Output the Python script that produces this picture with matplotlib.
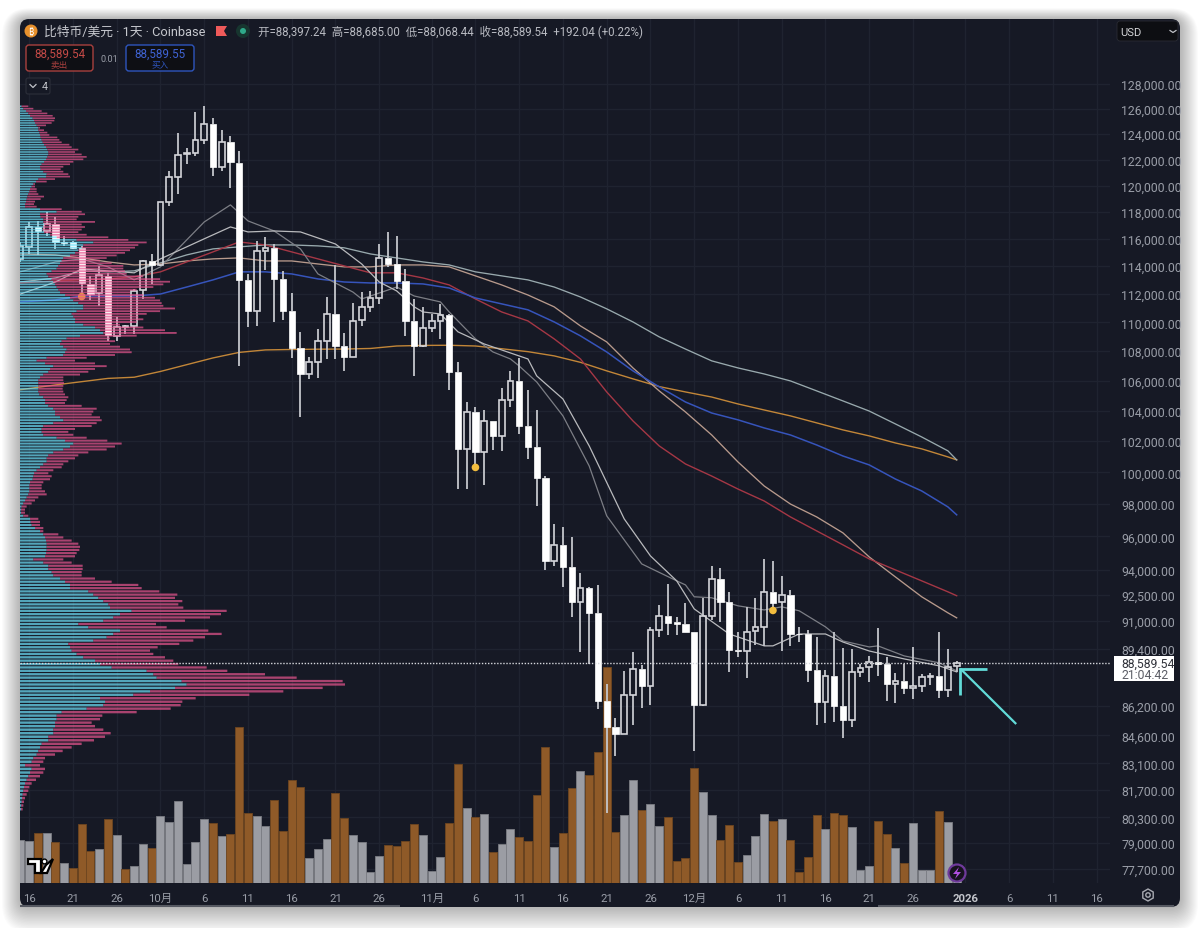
import matplotlib
matplotlib.use("Agg")
import matplotlib.pyplot as plt
from matplotlib.patches import FancyBboxPatch, Rectangle, Circle, Polygon, RegularPolygon
import numpy as np

plt.rcParams['font.family'] = ['Roboto', 'Noto Sans CJK SC', 'DejaVu Sans']

# day 0 is 16 Sep 2025, last candle is 31 Dec
days = np.arange(-1, 107)
opens = [114530, 115420, 116860, 116560, 117100, 115790, 115750, 115320, 112720, 112050, 113300, 109080, 109680, 109730, 112290, 114380,
         114110, 118770, 120670, 122400, 122500, 123560, 124770, 121420, 123400, 121750, 113000, 110800, 115120, 115320, 113100, 110820,
         108200, 106460, 107250, 108730, 110600, 108380, 107590, 110170, 111060, 111700, 114580, 114140, 112910, 110070, 108340, 109590,
         110070, 110540, 106570, 101490, 103890, 101310, 103300, 102320, 104690, 106000, 103010, 101630, 99610, 94500, 95500, 94170,
         92100, 92900, 91470, 86490, 85060, 84690, 86810, 88230, 87300, 90470, 91280, 90900, 90820, 90350, 86270, 91280,
         93430, 92090, 89320, 89250, 90380, 90650, 92660, 92070, 92520, 90250, 90220, 88160, 86400, 87850, 86180, 85440,
         88100, 88340, 88620, 88540, 87410, 87600, 87180, 87290, 87820, 87870, 87100, 88397.24]
highs = [115800, 117230, 117350, 118020, 117600, 116200, 115870, 115500, 113300, 114030, 113530, 110360, 109820, 112360, 114480, 114890,
         118730, 121140, 124070, 122930, 125770, 126250, 125270, 124310, 123860, 122700, 113420, 115870, 116100, 115620, 113680, 112050,
         109310, 107590, 109540, 111770, 114080, 109250, 111360, 112160, 112240, 115620, 116490, 116190, 113800, 111650, 111060, 110590,
         111300, 110590, 107280, 104590, 104220, 104060, 103340, 105490, 106680, 107520, 105350, 104060, 99770, 96770, 96570, 95950,
         93800, 92940, 93090, 87410, 85550, 88120, 89190, 88440, 90620, 91910, 93150, 91190, 92010, 90350, 92320, 94200,
         94100, 92700, 90320, 91790, 92320, 94640, 94500, 93600, 92810, 90620, 90480, 90080, 88210, 90320, 89420, 89350,
         88530, 89000, 90570, 88920, 88000, 88530, 89470, 87970, 88000, 90320, 89350, 88685]
lows = [114300, 114890, 114820, 116230, 115270, 115450, 115270, 112000, 111580, 111130, 108730, 108730, 109190, 109190, 111650, 112720,
        114000, 118430, 119360, 121650, 122300, 123200, 120710, 121140, 119790, 107000, 109700, 109770, 113750, 110000, 110190, 107520,
        103600, 106110, 106160, 107470, 107470, 106680, 107590, 109770, 110750, 111300, 113920, 112360, 109040, 106340, 108270, 109360,
        108850, 105350, 98930, 98970, 100320, 99180, 101440, 101380, 104260, 102470, 100840, 97900, 93970, 94240, 92950, 91190,
        89190, 88530, 86000, 80530, 83470, 84650, 85180, 86070, 86270, 90080, 90190, 90190, 90320, 83780, 86180, 91050,
        90900, 88100, 88920, 87730, 89600, 89560, 91680, 89280, 89530, 89760, 87540, 85130, 85250, 85310, 84450, 85030,
        87780, 87510, 87870, 86490, 86370, 86860, 86550, 86950, 87350, 86650, 86700, 88068.44]
closes = [115500, 116860, 116560, 117100, 115750, 115720, 115320, 112770, 112000, 113350, 109130, 109660, 109770, 112210, 114380, 114110,
          118730, 120650, 122370, 122500, 123560, 124770, 121450, 123400, 121780, 113000, 110800, 115090, 115320, 113100, 110820, 108200,
          106460, 107250, 108690, 110600, 108380, 107590, 110120, 111060, 111700, 114580, 114140, 112910, 110070, 108340, 109590, 110070,
          110540, 106570, 101490, 103890, 101310, 103300, 102320, 104690, 106000, 103010, 101630, 99610, 94500, 95500, 94170, 92100,
          92900, 91470, 86490, 85060, 84690, 86770, 88230, 87300, 90450, 91280, 90870, 90820, 90350, 86270, 91280, 93430,
          92090, 89320, 89260, 90350, 90620, 92660, 92050, 92520, 90250, 90220, 88160, 86400, 87840, 86180, 85440, 88100,
          88290, 88620, 88540, 87410, 87600, 87180, 87290, 87780, 87870, 87100, 88380, 88589.54]
volumes = [43, 42, 50, 50, 41, 20, 15, 59, 32, 34, 64, 48, 14, 17, 39, 35, 67, 61, 82, 19, 41, 64, 60, 47, 49, 156, 70, 67, 57, 83, 52, 103, 96,
           25, 34, 44, 90, 65, 48, 41, 11, 27, 38, 37, 42, 59, 48, 12, 26, 60, 119, 75, 66, 69, 31, 39, 54, 46, 42, 88, 136, 36, 50, 95, 112, 108,
           131, 216, 51, 68, 103, 73, 79, 57, 66, 22, 25, 115, 91, 68, 43, 58, 21, 28, 47, 69, 62, 64, 43, 11, 26, 68, 54, 70, 68, 56, 13, 17, 62,
           49, 35, 20, 60, 13, 13, 72, 61, 6]
volume_orange = [0, 0, 1, 0, 1, 0, 1, 1, 1, 0, 1, 0, 1, 0, 0, 1, 0, 0, 0, 0, 0, 0, 1, 0, 1, 1, 1, 0, 0, 1, 1, 1, 1,
                 0, 0, 0, 1, 1, 0, 0, 0, 0, 1, 1, 1, 1, 0, 0, 0, 1, 1, 0, 1, 0, 1, 0, 0, 1, 1, 1, 1, 0, 1, 1, 0, 1,
                 1, 1, 1, 0, 0, 1, 0, 0, 1, 1, 1, 1, 0, 0, 1, 1, 1, 0, 0, 0, 1, 0, 1, 1, 1, 1, 0, 1, 1, 0, 0, 0, 1,
                 1, 0, 1, 0, 0, 0, 1, 0, 0]

ma_days = [-1, 3, 6, 9, 12, 15, 18, 21, 24, 27, 30, 33, 36, 39, 42, 45, 48, 51, 54, 57, 60, 63, 66, 69, 72, 75, 78, 81, 84, 87, 90, 93, 96, 99, 102, 105, 106]
ma_orange = [105390, 105710, 105930, 106150, 106230, 106620, 107080, 107540, 107920, 108090, 108120, 108140, 108150, 108190, 108360, 108400, 108410,
             108360, 108170, 107970, 107680, 107240, 106660, 106120, 105600, 105240, 104900, 104440, 104040, 103650, 103190, 102730, 102340, 101880, 101500, 100980, 100790]
ma_pale = [112860, 113150, 113660, 113590, 113660, 114240, 114820, 115260, 115410, 115550, 115550, 115480, 115340, 114890, 114600, 114310, 114090,
           113590, 113300, 113010, 112500, 111790, 110950, 110030, 108990, 108150, 107340, 106860, 106450, 105980, 105310, 104640, 103970, 103120, 102270, 101370, 100790]
ma_tan = [114890, 114820, 114600, 114310, 114090, 114160, 114380, 114530, 114600, 114380, 114380, 114160, 113950, 113950, 114090, 114090, 113950,
          113300, 112650, 111930, 111090, 109750, 108640, 106860, 105310, 103910, 102400, 100660, 99130, 98000, 97200, 96220, 94760, 93560, 92390, 91450, 91160]
ma_red = [112790, 112940, 113010, 113080, 113230, 113590, 114310, 115040, 115770, 115550, 115040, 114530, 114020, 113520, 113520, 113150, 112650,
          111650, 110730, 110100, 108850, 107470, 105240, 103320, 101690, 100530, 99760, 98940, 98190, 97200, 96340, 95490, 94640, 93980, 93330, 92680, 92450]
ma_blue = [111440, 111580, 111860, 111860, 111860, 112000, 112500, 113010, 113590, 113590, 113440, 113080, 112860, 112790, 112790, 112720, 112430,
           111720, 111300, 110880, 110030, 109060, 107950, 106660, 105580, 104570, 103840, 103390, 102860, 102400, 101750, 101040, 100470, 99570, 98820, 97820, 97330]
fast_days = [-1, 3, 6, 9, 12, 15, 20, 23, 25, 28, 31, 33, 37, 38, 40, 42, 44, 47, 48, 51, 53, 55, 56, 58, 61, 64, 66, 70, 74, 75, 76, 78, 81, 84, 86, 88, 91, 93, 96, 97, 100, 104, 106]
ma_fast = [113590, 114310, 114530, 113950, 113010, 113950, 117250, 118530, 117330, 116580, 115260, 113440, 112140, 111650, 112070, 112500, 111860, 111440, 110730,
           108850, 107950, 107470, 106990, 105910, 103650, 100400, 97270, 94340, 93330, 93090, 92390, 92330, 91860, 91620, 91800, 91570, 90640, 89830, 89490, 89550, 88980, 88590, 88140]
slow_days = [-1, 3, 6, 9, 12, 15, 20, 23, 25, 28, 31, 35, 38, 40, 42, 44, 45, 47, 49, 52, 57, 58, 61, 64, 68, 71, 74, 76, 80, 84, 85, 88, 91, 93, 96, 100, 104, 106]
ma_slow = [112000, 112860, 113800, 113660, 113520, 114530, 116000, 116880, 116510, 116580, 116510, 115620, 114160, 112860, 112220, 111090, 110730, 110590, 109340,
           108500, 107470, 106320, 104770, 101690, 97080, 94820, 93330, 91680, 90230, 89550, 89550, 90230, 90230, 89770, 89260, 88810, 88420, 88080]

# volume profile, rows from the top price down, total and buy part
vp_top_price = 126200
vp_row_size = 190.3
vp_total = [25, 40, 65, 82, 98, 105, 103, 95, 78, 60, 72, 82, 88, 112, 118, 125, 148, 155, 175, 165, 185, 200, 190, 160, 150, 130, 122, 130, 145, 150, 105, 80, 45, 45, 50, 50, 55, 72,
            62, 45, 42, 50, 125, 185, 195, 175, 170, 225, 185, 195, 185, 175, 200, 265, 325, 380,
            355, 345, 330, 315, 290, 260, 240, 275, 310, 310, 315, 320, 370, 420, 450, 430, 400, 350, 330, 370, 405, 420, 425, 430, 465, 420, 380, 355, 370, 350, 300, 370, 435, 470, 350,
            270, 285, 270, 300, 330, 335, 285, 200, 165, 225, 260, 225, 205, 180, 130,
            130, 132, 130, 128, 130, 135, 145, 140, 135, 185, 230, 220, 215, 240, 245, 230, 215, 165, 145, 160, 200, 262, 305, 285, 260, 205, 175, 165, 145, 130,
            125, 100, 85, 95, 90, 70, 65, 65, 75, 80, 55, 45, 35, 20, 15, 15, 25, 55, 60, 60, 70, 70, 115, 130, 155, 175, 180, 178, 170, 165,
            130, 155, 188, 188, 185, 185, 225, 275, 355, 365, 418, 472, 465, 487, 475, 490, 620, 603, 570, 495, 408, 440, 565, 605, 555, 520, 478, 413, 390, 400,
            435, 460, 475, 560, 622, 735, 830, 968, 975, 908, 790, 688, 527, 487, 482, 452, 350, 247, 240, 215, 225, 250, 272, 255, 222, 185, 155, 128, 105,
            75, 70, 60, 75, 70, 60, 48, 35, 28, 25, 20, 15, 12, 10, 8]
vp_buy = [5, 10, 18, 25, 30, 38, 42, 45, 50, 55, 55, 58, 60, 62, 65, 68, 72, 78, 82, 85, 85, 82, 78, 72, 65, 60, 62, 70, 80, 78, 55, 48, 40, 35, 30, 28, 25, 22,
          20, 18, 15, 15, 60, 110, 60, 62, 70, 70, 72, 70, 68, 72, 90, 110, 170, 220,
          190, 185, 175, 165, 150, 130, 125, 120, 115, 110, 95, 80, 85, 95, 100, 105, 110, 115, 120, 135, 150, 160, 175, 190, 190, 170, 155, 160, 165, 165, 190, 225, 240, 250, 180,
          140, 125, 120, 130, 140, 135, 130, 80, 50, 75, 100, 90, 85, 70, 60,
          55, 55, 55, 55, 55, 58, 70, 75, 75, 85, 100, 105, 105, 120, 130, 100, 70, 65, 65, 70, 110, 135, 160, 150, 130, 100, 85, 80, 80, 70,
          60, 50, 42, 40, 38, 30, 28, 28, 28, 25, 20, 15, 10, 5, 3, 3, 10, 30, 32, 35, 45, 60, 70, 75, 78, 80, 80, 80, 78, 75,
          40, 70, 85, 85, 95, 100, 120, 135, 150, 150, 205, 220, 235, 250, 265, 270, 335, 300, 280, 250, 175, 205, 300, 280, 260, 220, 145, 150, 155, 170,
          190, 225, 240, 275, 380, 400, 410, 485, 500, 465, 390, 340, 240, 255, 250, 200, 125, 110, 110, 105, 105, 100, 100, 85, 85, 65, 60, 55, 50,
          40, 35, 15, 35, 30, 25, 20, 15, 12, 10, 8, 6, 5, 4, 3]

price_ticks = [128000, 126000, 124000, 122000, 120000, 118000, 116000, 114000, 112000, 110000, 108000, 106000, 104000, 102000, 100000, 98000, 96000, 94000,
               92500, 91000, 89400, 86200, 84600, 83100, 81700, 80300, 79000, 77700]
date_ticks = [0, 5, 10, 15, 20, 25, 30, 35, 40, 46, 51, 56, 61, 66, 71, 76, 81, 86, 91, 96, 101, 107, 112, 117, 122]
date_labels = ['16', '21', '26', '10月', '6', '11', '16', '21', '26', '11月', '6', '11', '16', '21', '26', '12月', '6', '11', '16', '21', '26', '2026', '6', '11', '16']
last_price = 88589.54
dot_days = [6, 51, 85]
dot_prices = [111820, 100310, 91590]
dot_colors = ['#e59a3c', '#f2bd3e', '#f2bd3e']

BG = '#161925'
GRID = '#1f2330'
TXT = '#9a9ea8'

fig = plt.figure(figsize=(12, 9.29), dpi=100, facecolor='white')

# pixel coordinate layer behind everything
back = fig.add_axes([0, 0, 1, 1], zorder=0)
back.set_xlim(0, 1200)
back.set_ylim(929, 0)
back.axis('off')
for i in range(18):
    grow = 18 - i
    back.add_patch(FancyBboxPatch((20 - grow, 20 - grow * 0.6), 1160 + 2 * grow, 888 + 1.6 * grow + grow * 0.4,
                                  boxstyle='round,pad=0,rounding_size=%f' % (10 + grow),
                                  fc='black', ec='none', alpha=0.016))
back.add_patch(FancyBboxPatch((20, 20), 1160, 888, boxstyle='round,pad=0,rounding_size=9', fc=BG, ec='none'))
back.plot([20, 400], [906.5, 906.5], color='#565962', lw=1.5, solid_capstyle='butt')
back.plot([878, 1174], [906.5, 906.5], color='#565962', lw=1.5, solid_capstyle='butt')

pos = [20 / 1200, 1 - 884 / 929, 1090 / 1200, 864 / 929]
x_range = (-1.051, 123.52)
y_range = (77018, 133400)

# ticks and grid
ax = fig.add_axes(pos, zorder=1)
ax.patch.set_alpha(0)
ax.set_yscale('log')
ax.set_xlim(x_range)
ax.set_ylim(y_range)
ax.minorticks_off()
ax.yaxis.tick_right()
ax.set_yticks(price_ticks)
ax.set_yticklabels([f'{p:,.2f}' for p in price_ticks], color=TXT, fontsize=8.8)
ax.yaxis.set_minor_locator(matplotlib.ticker.NullLocator())
ax.set_xticks(date_ticks)
ax.set_xticklabels(date_labels, color=TXT, fontsize=8.2)
ax.get_xticklabels()[21].set_fontweight('bold')
ax.get_xticklabels()[21].set_color('#c4c6cc')
ax.tick_params(axis='both', length=0)
ax.tick_params(axis='y', pad=8)
ax.tick_params(axis='x', pad=7)
ax.grid(True, color=GRID, lw=1)
for s in ax.spines.values():
    s.set_visible(False)

# volume
vax = fig.add_axes(pos, zorder=2)
vax.patch.set_alpha(0)
vax.set_xlim(x_range)
vax.set_ylim(0, 864)
vax.axis('off')
vol_colors = ['#8f5a28' if o else '#9b9da4' for o in volume_orange]
vol_edges = ['#6e4620' if o else '#7b7d84' for o in volume_orange]
vax.bar(days, volumes, width=0.92, color=vol_colors, edgecolor=vol_edges, linewidth=0.6)

# candles and moving averages
pax = fig.add_axes(pos, zorder=3)
pax.patch.set_alpha(0)
pax.set_yscale('log')
pax.set_xlim(x_range)
pax.set_ylim(y_range)
pax.axis('off')
pax.plot(ma_days, ma_orange, color='#c28638', lw=1.0)
pax.plot(ma_days, ma_pale, color='#98a9ad', lw=0.95)
pax.plot(ma_days, ma_tan, color='#b89a8c', lw=0.95)
pax.plot(ma_days, ma_red, color='#a53745', lw=1.0)
pax.plot(ma_days, ma_blue, color='#3654bb', lw=1.1)
pax.plot(fast_days, ma_fast, color='#7c7e85', lw=0.9)
pax.plot(slow_days, ma_slow, color='#b9babd', lw=0.9)

o = np.array(opens)
h = np.array(highs)
l = np.array(lows)
c = np.array(closes)
up = c > o
body_top = np.maximum(o, c)
body_bot = np.minimum(o, c)
pax.vlines(days, body_top, h, color='#c4c6cc', lw=1.3, zorder=4)
pax.vlines(days, l, body_bot, color='#c4c6cc', lw=1.3, zorder=4)
pax.bar(days[~up], (body_top - body_bot)[~up], bottom=body_bot[~up], width=0.72, color='white', edgecolor='white', linewidth=0.5, zorder=5)
pax.bar(days[up], (body_top - body_bot)[up], bottom=body_bot[up], width=0.66, facecolor='none', edgecolor='#d4d5da', linewidth=1.2, zorder=5)
pax.scatter(dot_days, dot_prices, s=30, c=dot_colors, linewidths=0, zorder=6)
# cyan arrow drawn by hand on the chart
pax.plot([112.8, 106.4], [85210, 88270], color='#62dbd8', lw=1.6, zorder=6, solid_capstyle='butt')
pax.plot([109.45, 106.4, 106.4], [88270, 88270, 86800], color='#62dbd8', lw=2.0, zorder=6, solid_joinstyle='miter', solid_capstyle='butt')

# volume profile on top, x unit is a third of a pixel
vp = fig.add_axes(pos, zorder=4)
vp.patch.set_alpha(0)
vp.set_yscale('log')
vp.set_xlim(0, 3270)
vp.set_ylim(y_range)
vp.axis('off')
vp_total_arr = np.array(vp_total)
vp_buy_arr = np.array(vp_buy)
vp_prices = vp_top_price - vp_row_size * np.arange(len(vp_total))
vp.barh(vp_prices, vp_buy_arr, height=vp_row_size * 0.68, color='#6ee2fa', alpha=0.7, linewidth=0, snap=False)
vp.barh(vp_prices, vp_total_arr - vp_buy_arr, left=vp_buy_arr, height=vp_row_size * 0.68, color='#e8558f', alpha=0.7, linewidth=0, snap=False)
vp.axhline(last_price, color='#d6d8dd', lw=1.0, ls=(0, (1, 1.2)))

# header and other widgets, pixel coordinates
top = fig.add_axes([0, 0, 1, 1], zorder=5)
top.patch.set_alpha(0)
top.set_xlim(0, 1200)
top.set_ylim(929, 0)
top.axis('off')

top.add_patch(Circle((31, 32), 6.5, fc='#e8912d', ec='none'))
top.text(31, 32, '₿', color='white', fontsize=6.5, ha='center', va='center', family=['Noto Sans', 'Roboto', 'Open Sans', 'Lato', 'Inter', 'Liberation Sans'])
top.text(44, 32, '比特币/美元 · 1天 · Coinbase', color='#c6c8ce', fontsize=9.2, va='center')
top.add_patch(Polygon([(216, 27), (227, 27), (224, 32), (227, 37), (216, 37)], fc='#ef5a5a', ec='none'))
top.add_patch(Circle((243, 32), 7, fc='#17352f', ec='none'))
top.add_patch(Circle((243, 32), 3, fc='#2fa98a', ec='none'))
top.text(258, 32, '开=88,397.24  高=88,685.00  低=88,068.44  收=88,589.54  +192.04 (+0.22%)', color='#b8bac1', fontsize=8.3, va='center')

top.add_patch(FancyBboxPatch((26, 46), 67, 26, boxstyle='round,pad=0,rounding_size=3', fc='#0e0f14', ec='#a8403e', lw=1))
top.text(59.5, 54, '88,589.54', color='#c54a47', fontsize=8.4, ha='center', va='center')
top.text(59.5, 65, '卖出', color='#a8403e', fontsize=6.2, ha='center', va='center')
top.text(109, 59, '0.01', color='#9a9ea8', fontsize=6.6, ha='center', va='center')
top.add_patch(FancyBboxPatch((126, 46), 68, 26, boxstyle='round,pad=0,rounding_size=3', fc='#0e0f14', ec='#2e55bd', lw=1))
top.text(160, 54, '88,589.55', color='#3f63d4', fontsize=8.4, ha='center', va='center')
top.text(160, 65, '买入', color='#2e55bd', fontsize=6.2, ha='center', va='center')
top.add_patch(FancyBboxPatch((26, 79), 24, 16, boxstyle='round,pad=0,rounding_size=2', fc=BG, ec='#2c2f3a', lw=0.8))
top.plot([30, 33, 36], [85.5, 88.5, 85.5], color='#c0c2c8', lw=0.9)
top.text(44.5, 87, '4', color='#c0c2c8', fontsize=7.8, ha='center', va='center')

top.add_patch(FancyBboxPatch((1117, 22), 61, 20, boxstyle='round,pad=0,rounding_size=3', fc='#0d0e12', ec='#2a2c34', lw=0.6))
top.text(1120, 32.5, 'USD', color='#d4d5d8', fontsize=8.0, va='center')
top.plot([1170, 1173, 1176], [31.5, 33.5, 31.5], color='#c0c2c8', lw=0.9)

top.add_patch(Rectangle((1114, 657), 60, 25, fc='white', ec='none'))
top.text(1121, 664, '88,589.54', color='#30323a', fontsize=8.8, va='center')
top.text(1121, 675.5, '21:04:42', color='#5c5e66', fontsize=8.8, va='center')

# tradingview mark
top.add_patch(Polygon([(28, 860), (41, 860), (41, 874), (35, 874), (35, 865), (28, 865)], fc='white', ec='black', lw=1.6))
top.add_patch(Circle((44.5, 862.5), 2.4, fc='white', ec='black', lw=1.0))
top.add_patch(Polygon([(46, 866), (53, 860), (47, 874), (41, 874)], fc='white', ec='black', lw=1.6))

# flash icon near the last bar
top.add_patch(Circle((957, 874), 8.5, fc='#17131f', ec='#6f3a9c', lw=1.6))
top.add_patch(Polygon([(959, 868), (953, 875), (957, 875), (955, 880), (961, 873), (957, 873)], fc='#b04fe0', ec='none'))

# chart settings icon
top.add_patch(RegularPolygon((1148, 896), 6, radius=6, fc='none', ec='#a8aab2', lw=1.0))
top.add_patch(Circle((1148, 896), 2.2, fc='none', ec='#a8aab2', lw=1.0))

fig.savefig('out.png', dpi=100, facecolor='white')
